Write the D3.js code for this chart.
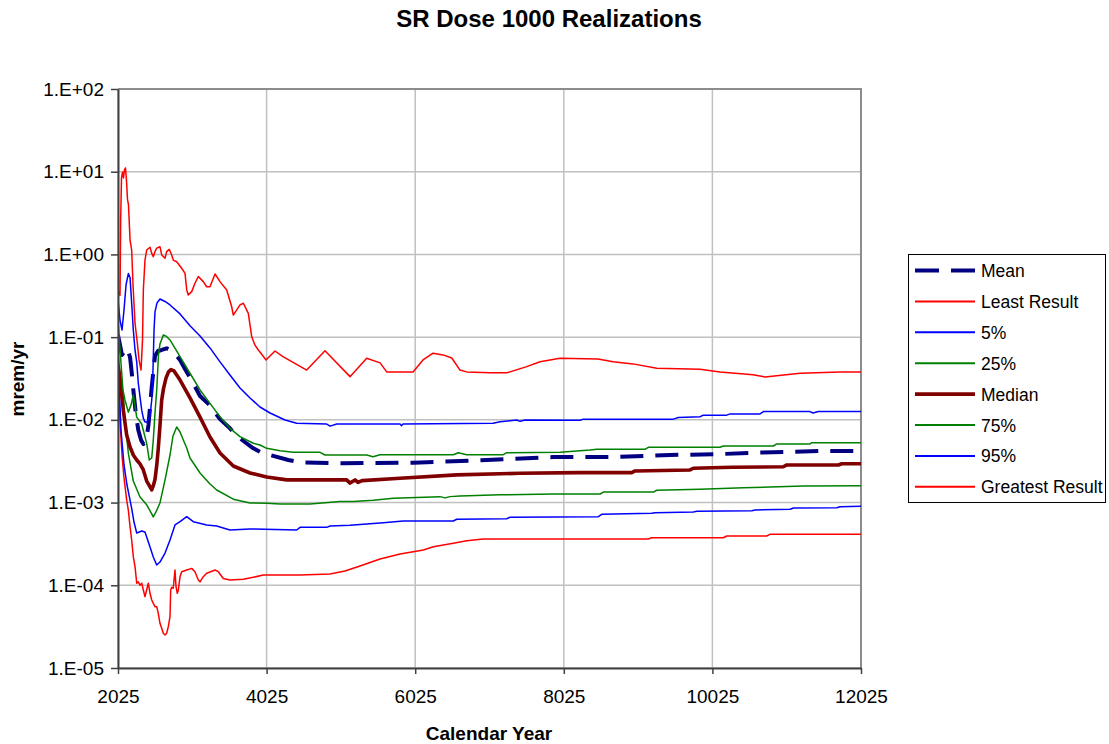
<!DOCTYPE html>
<html>
<head>
<meta charset="utf-8">
<script src="https://cdn.jsdelivr.net/npm/d3@7"></script>
<style>
  html, body { margin: 0; padding: 0; background: #fff; }
  svg { display: block; font-family: "Liberation Sans", Arial, sans-serif; }
</style>
</head>
<body>
<svg id="chart" width="1109" height="744"></svg>
<script>
// Dose history per statistic: [calendar year, dose in mrem/yr]
const meanDose = [[2025,0.106],[2052,0.0804],[2079,0.0608],[2106,0.0662],[2142,0.074],[2164,0.0662],[2187,0.0575],[2209,0.0379],[2231,0.023],[2267,0.01145],[2298,0.00754],[2335,0.0057],[2366,0.0051],[2411,0.0062],[2435,0.00867],[2456,0.0143],[2479,0.0249],[2500,0.0379],[2523,0.0592],[2563,0.068],[2613,0.070],[2680,0.0733],[2769,0.0667],[2860,0.053],[2927,0.0412],[3038,0.0277],[3129,0.0194],[3241,0.0156],[3398,0.0102],[3532,0.0079],[3623,0.00638],[3846,0.00453],[3936,0.00412],[4071,0.00376],[4317,0.00327],[4475,0.00307],[5058,0.00299],[6000,0.00304],[6987,0.00327],[7211,0.00334],[7884,0.00355],[8647,0.00355],[9455,0.00376],[10083,0.00384],[10576,0.00401],[11518,0.00421],[12025,0.00421]];

const leastDose = [[2025,0.053],[2038,0.0174],[2059,0.00754],[2079,0.00376],[2106,0.00198],[2142,0.00107],[2164,0.000813],[2187,0.000511],[2209,0.000353],[2231,0.000222],[2254,0.000168],[2277,0.000106],[2298,0.00011],[2321,0.0001],[2344,0.000106],[2366,0.0000877],[2388,0.0000728],[2411,0.0000877],[2433,0.000106],[2456,0.00008],[2479,0.0000664],[2500,0.0000605],[2523,0.0000551],[2546,0.0000551],[2567,0.0000458],[2590,0.0000347],[2613,0.0000302],[2635,0.0000263],[2658,0.0000251],[2680,0.0000263],[2702,0.0000316],[2725,0.0000417],[2734,0.0000877],[2748,0.0000946],[2769,0.000092],[2792,0.000153],[2806,0.0000962],[2823,0.00008],[2837,0.0000877],[2860,0.000127],[2882,0.000146],[2950,0.000153],[3017,0.00016],[3061,0.000146],[3106,0.000116],[3129,0.00011],[3173,0.000127],[3219,0.00014],[3331,0.000153],[3375,0.000146],[3442,0.000121],[3532,0.000116],[3712,0.000118],[3846,0.000125],[3981,0.000133],[4475,0.000133],[4879,0.000137],[5080,0.000149],[5282,0.000171],[5552,0.000208],[5821,0.000239],[6135,0.000267],[6269,0.000293],[6538,0.000322],[6719,0.000346],[6942,0.000363],[9162,0.000363],[9208,0.000376],[10172,0.000376],[10218,0.000394],[10756,0.000394],[10800,0.000413],[12025,0.000413]];

const p05Dose = [[2025,0.0925],[2038,0.0303],[2065,0.00754],[2106,0.00285],[2146,0.00163],[2187,0.00107],[2213,0.000813],[2240,0.000582],[2277,0.000429],[2344,0.000453],[2388,0.00044],[2411,0.000384],[2456,0.00029],[2500,0.00022],[2546,0.000176],[2590,0.000191],[2658,0.000245],[2725,0.000353],[2792,0.000536],[2860,0.000587],[2950,0.000675],[3038,0.000587],[3219,0.000536],[3353,0.000521],[3532,0.000466],[3802,0.00048],[4430,0.000466],[4475,0.000502],[4834,0.000502],[4879,0.000521],[5148,0.000531],[5596,0.000571],[5865,0.000599],[6538,0.000599],[6584,0.000628],[7257,0.000638],[7301,0.000664],[8490,0.000675],[8535,0.000722],[9208,0.000742],[9253,0.000755],[9769,0.000769],[9814,0.000785],[10555,0.000798],[10600,0.000813],[11071,0.00083],[11116,0.00086],[11699,0.000867],[11743,0.000891],[12025,0.000902]];

const p25Dose = [[2025,0.0608],[2052,0.0349],[2096,0.0191],[2119,0.00996],[2164,0.00397],[2231,0.00182],[2321,0.00117],[2411,0.00094],[2479,0.00073],[2500,0.00067],[2536,0.00077],[2590,0.00099],[2658,0.00188],[2725,0.00376],[2765,0.00638],[2815,0.0082],[2860,0.00713],[2904,0.0057],[2950,0.00457],[2994,0.00346],[3129,0.00228],[3263,0.00168],[3353,0.00142],[3577,0.0011],[3802,0.00099],[4026,0.00098],[4206,0.00096],[4609,0.00096],[5013,0.00103],[5192,0.00103],[5461,0.00107],[5730,0.00113],[6359,0.00118],[6426,0.00114],[6494,0.00118],[6628,0.0012],[7167,0.00124],[7884,0.00127],[8513,0.00127],[8557,0.00134],[9230,0.00134],[9276,0.00141],[9858,0.00145],[10441,0.00151],[11248,0.00159],[12025,0.0016]];

const medianDose = [[2025,0.0461],[2052,0.0321],[2096,0.0131],[2142,0.00656],[2187,0.0047],[2231,0.00376],[2277,0.00327],[2321,0.00293],[2366,0.00248],[2411,0.00182],[2433,0.00168],[2479,0.00142],[2500,0.0016],[2523,0.0019],[2546,0.0028],[2567,0.0045],[2590,0.0085],[2613,0.0174],[2638,0.024],[2671,0.032],[2705,0.038],[2738,0.0405],[2779,0.039],[2860,0.0303],[2994,0.0184],[3129,0.0108],[3263,0.0062],[3398,0.00397],[3577,0.00277],[3802,0.00228],[4026,0.00204],[4296,0.00188],[5103,0.00188],[5148,0.00172],[5215,0.00188],[5255,0.00175],[5309,0.00184],[5821,0.00197],[6584,0.00216],[7436,0.00226],[8243,0.0023],[8939,0.0023],[8983,0.00241],[9724,0.00248],[9768,0.0026],[10285,0.00267],[10980,0.00271],[11026,0.00285],[11720,0.00285],[11766,0.00295],[12025,0.00295]];

const p75Dose = [[2025,0.152],[2052,0.070],[2092,0.023],[2119,0.0174],[2164,0.0124],[2200,0.0151],[2231,0.020],[2277,0.0108],[2344,0.0089],[2411,0.0052],[2446,0.00327],[2479,0.00346],[2500,0.0057],[2523,0.0121],[2546,0.023],[2570,0.0608],[2590,0.0827],[2635,0.106],[2671,0.103],[2725,0.0925],[2860,0.058],[2994,0.0366],[3129,0.023],[3263,0.0158],[3398,0.0109],[3532,0.0079],[3667,0.00626],[3846,0.00521],[3936,0.00497],[4026,0.00453],[4206,0.00424],[4385,0.00405],[4744,0.00405],[4811,0.00376],[5372,0.00376],[5457,0.00359],[5552,0.00379],[6538,0.00379],[6605,0.00401],[6719,0.00379],[7211,0.00379],[7257,0.00401],[7974,0.00405],[8378,0.00432],[8468,0.00441],[9118,0.00441],[9162,0.00466],[10127,0.00466],[10172,0.00483],[10845,0.00483],[10891,0.00511],[11339,0.00511],[11362,0.0053],[12025,0.0053]];

const p95Dose = [[2025,0.28],[2052,0.161],[2079,0.122],[2106,0.213],[2133,0.427],[2164,0.587],[2187,0.526],[2209,0.259],[2231,0.122],[2254,0.070],[2277,0.050],[2298,0.0279],[2321,0.0191],[2344,0.0131],[2366,0.0105],[2388,0.0094],[2415,0.0094],[2456,0.0111],[2479,0.0174],[2496,0.040],[2510,0.122],[2523,0.202],[2550,0.259],[2590,0.289],[2658,0.27],[2725,0.245],[2860,0.191],[2994,0.137],[3129,0.1035],[3263,0.0741],[3398,0.0502],[3532,0.0349],[3667,0.0243],[3802,0.0184],[3936,0.0143],[4071,0.0121],[4273,0.00996],[4430,0.0091],[4834,0.0089],[4879,0.0084],[4969,0.0089],[5821,0.0089],[5841,0.0085],[5861,0.0089],[7073,0.0091],[7167,0.0095],[7391,0.00996],[7436,0.0096],[7503,0.00996],[8243,0.0099],[8288,0.0102],[9500,0.0102],[9567,0.0107],[9858,0.0109],[9903,0.0114],[10218,0.0114],[10262,0.0118],[10666,0.0118],[10711,0.0126],[11339,0.0126],[11380,0.0121],[11451,0.0126],[12025,0.0126]];

const greatestDose = [[2025,0.37],[2052,0.32],[2061,2.6],[2072,8.4],[2086,9.9],[2099,8.4],[2112,10.5],[2126,11.1],[2139,7.9],[2153,4.6],[2166,4.0],[2187,1.5],[2209,1.13],[2227,0.43],[2254,0.148],[2285,0.085],[2308,0.053],[2335,0.040],[2355,0.092],[2366,0.37],[2388,0.85],[2411,1.13],[2456,1.22],[2479,1.03],[2500,0.94],[2523,1.08],[2546,1.19],[2590,1.24],[2613,0.985],[2658,0.90],[2680,1.08],[2715,1.15],[2748,0.985],[2769,0.855],[2815,0.816],[2882,0.68],[2927,0.59],[2950,0.372],[2971,0.324],[3017,0.355],[3061,0.448],[3106,0.54],[3173,0.469],[3219,0.407],[3263,0.407],[3331,0.58],[3398,0.469],[3488,0.372],[3555,0.233],[3577,0.185],[3667,0.245],[3712,0.257],[3779,0.194],[3825,0.101],[3869,0.080],[3913,0.070],[3936,0.066],[4017,0.053],[4138,0.068],[4245,0.058],[4565,0.040],[4811,0.0685],[5148,0.0333],[5372,0.0556],[5552,0.0488],[5642,0.038],[5996,0.038],[6130,0.053],[6265,0.064],[6400,0.061],[6517,0.056],[6628,0.040],[6719,0.038],[7032,0.037],[7257,0.037],[7526,0.044],[7705,0.0505],[7974,0.0556],[8486,0.0545],[8687,0.0505],[8957,0.0475],[9276,0.042],[9858,0.041],[10128,0.038],[10572,0.035],[10734,0.033],[11205,0.0366],[11743,0.038],[12025,0.038]];

const seriesNames = ["Mean", "Least Result", "5%", "25%", "Median", "75%", "95%", "Greatest Result"];
const seriesData = [meanDose, leastDose, p05Dose, p25Dose, medianDose, p75Dose, p95Dose, greatestDose];

const xTickValues = [2025, 4025, 6025, 8025, 10025, 12025];
const yTickValues = [1e-5, 1e-4, 1e-3, 1e-2, 1e-1, 1e0, 1e1, 1e2];
const yTickLabels = ["1.E-05", "1.E-04", "1.E-03", "1.E-02", "1.E-01", "1.E+00", "1.E+01", "1.E+02"];

// Line styling for each series, in legend order
const styles = [
  { color: "#000080", width: 4, dash: "23,12" },
  { color: "#ff0000", width: 1.5 },
  { color: "#0000ff", width: 1.5 },
  { color: "#008000", width: 1.5 },
  { color: "#800000", width: 3.6 },
  { color: "#008000", width: 1.5 },
  { color: "#0000ff", width: 1.5 },
  { color: "#ff0000", width: 1.5 }
];

const plot = { left: 118, right: 861, top: 89, bottom: 668 };
const svg = d3.select("#chart");

const x = d3.scaleLinear().domain([2025, 12025]).range([plot.left, plot.right]);
const y = d3.scaleLog().domain([1e-5, 1e2]).range([plot.bottom, plot.top]);

// gridlines
const grid = svg.append("g");
grid.selectAll("line.h").data(yTickValues).join("line")
  .attr("x1", plot.left).attr("x2", plot.right)
  .attr("y1", d => y(d)).attr("y2", d => y(d))
  .attr("stroke", "#c0c0c0").attr("stroke-width", 1.5);
grid.selectAll("line.v").data(xTickValues).join("line")
  .attr("x1", d => x(d)).attr("x2", d => x(d))
  .attr("y1", plot.top).attr("y2", plot.bottom)
  .attr("stroke", "#c0c0c0").attr("stroke-width", 1.5);

// plot frame (top and right)
svg.append("path")
  .attr("d", `M${plot.left},${plot.top}H${plot.right}V${plot.bottom}`)
  .attr("fill", "none").attr("stroke", "#8c8c8c").attr("stroke-width", 2);

// series
svg.append("clipPath").attr("id", "plotClip").append("rect")
  .attr("x", plot.left).attr("y", plot.top)
  .attr("width", plot.right - plot.left).attr("height", plot.bottom - plot.top);

const line = d3.line().x(d => x(d[0])).y(d => y(d[1]));
const lines = svg.append("g").attr("clip-path", "url(#plotClip)");
seriesData.forEach((data, i) => {
  const s = styles[i];
  lines.append("path")
    .datum(data)
    .attr("d", line)
    .attr("fill", "none")
    .attr("stroke", s.color)
    .attr("stroke-width", s.width)
    .attr("stroke-linejoin", "round")
    .attr("stroke-dasharray", s.dash || null);
});

// axes
const xAxis = d3.axisBottom(x).tickValues(xTickValues).tickFormat(d3.format("d"))
  .tickSizeInner(6).tickSizeOuter(0).tickPadding(16);
const yAxis = d3.axisLeft(y).tickValues(yTickValues)
  .tickFormat((d, i) => yTickLabels[i]).tickSizeInner(7).tickSizeOuter(0).tickPadding(7);

const gx = svg.append("g").attr("transform", `translate(0,${plot.bottom})`).call(xAxis);
const gy = svg.append("g").attr("transform", `translate(${plot.left},0)`).call(yAxis);
[gx, gy].forEach(g => {
  g.select(".domain").attr("stroke", "#404040").attr("stroke-width", 2);
  g.selectAll(".tick line").attr("stroke", "#404040").attr("stroke-width", 1.5);
  g.selectAll(".tick text").attr("fill", "#000")
    .style("font-family", "'Liberation Sans', Arial, sans-serif").style("font-size", "19px");
});

// titles
svg.append("text").attr("x", 549).attr("y", 27).attr("text-anchor", "middle")
  .style("font-size", "24px").style("font-weight", "bold").text("SR Dose 1000 Realizations");
svg.append("text").attr("x", 489).attr("y", 740).attr("text-anchor", "middle")
  .style("font-size", "19px").style("font-weight", "bold").text("Calendar Year");
svg.append("text").attr("transform", "translate(24,379) rotate(-90)").attr("text-anchor", "middle")
  .style("font-size", "19px").style("font-weight", "bold").text("mrem/yr");

// legend
const legend = svg.append("g");
legend.append("rect").attr("x", 908.5).attr("y", 254.5).attr("width", 197).attr("height", 248)
  .attr("fill", "#fff").attr("stroke", "#000").attr("stroke-width", 1);
seriesNames.forEach((name, i) => {
  const cy = 270.5 + i * 30.9;
  const s = styles[i];
  legend.append("line").attr("x1", 915).attr("x2", 975).attr("y1", cy).attr("y2", cy)
    .attr("stroke", s.color).attr("stroke-width", s.dash ? 4 : (s.width > 2 ? 3.6 : 2))
    .attr("stroke-dasharray", s.dash ? "24,12" : null);
  legend.append("text").attr("x", 981).attr("y", cy + 6.5)
    .style("font-size", "17.5px").text(name);
});
</script>
</body>
</html>
